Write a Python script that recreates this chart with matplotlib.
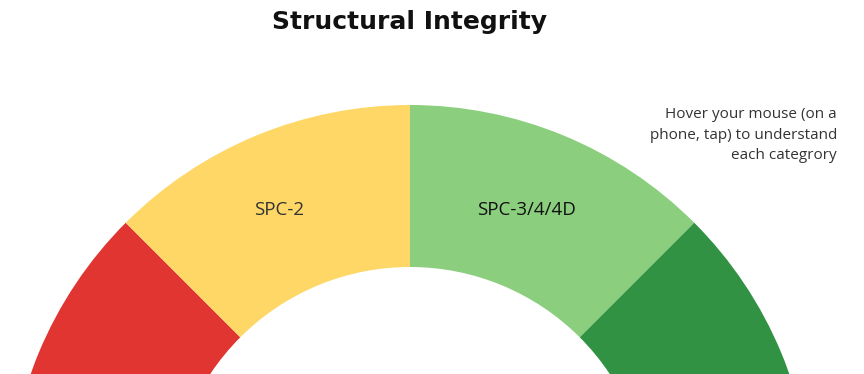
import matplotlib.pyplot as plt
import numpy as np

# gauge bands, drawn clockwise from the left
categories = ["", "SPC-2", "SPC-3/4/4D", ""]
shares = [1, 1, 1, 1]
colors = ["#E03531", "#FED766", "#8BCF7E", "#329244"]
label_colors = ["#333333", "#333333", "#111111", "#333333"]

title = "Structural Integrity"
hint = "Hover your mouse (on a\nphone, tap) to understand\neach categrory"

W, H = 864, 374
fig = plt.figure(figsize=(W / 100, H / 100), dpi=100)
ax = fig.add_axes([0, 0, 1, 1])

cx, cy = 410, -133
r_out, r_in = 402, 240

# upper half holds the bands, lower half is an invisible filler wedge
wedges, _ = ax.pie(
    shares + [sum(shares)],
    colors=colors + ["none"],
    startangle=180,
    counterclock=False,
    center=(cx, cy),
    radius=r_out,
    wedgeprops=dict(width=r_out - r_in, linewidth=0),
)

r_lab = 324
for w, lab, lc in zip(wedges, categories, label_colors):
    if not lab:
        continue
    ang = np.deg2rad((w.theta1 + w.theta2) / 2)
    ax.text(cx + r_lab * np.cos(ang) - 7, cy + r_lab * np.sin(ang) - 2, lab,
            ha="center", va="center", fontsize=13.5, color=lc,
            family="Open Sans")

ax.text(409, H - 22, title, ha="center", va="center", fontsize=18,
        fontweight="bold", family="DejaVu Sans", color="#111111")
ax.text(837, H - 135, hint, ha="right", va="center", fontsize=11,
        color="#333333", family="Open Sans", linespacing=1.5)

ax.set_xlim(0, W)
ax.set_ylim(0, H)
ax.set_aspect("auto")
ax.axis("off")

fig.savefig("out.png", dpi=100)
